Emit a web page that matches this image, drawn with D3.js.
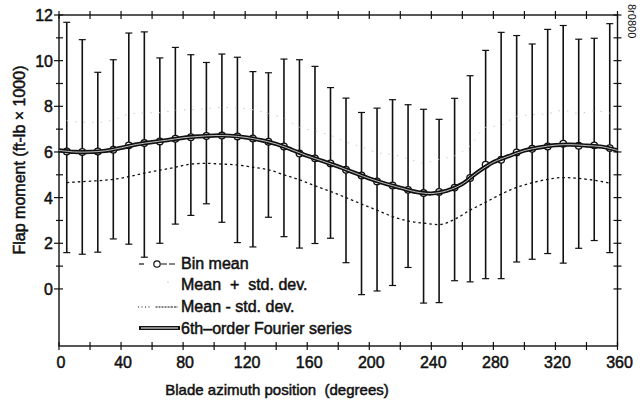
<!DOCTYPE html>
<html>
<head>
<meta charset="utf-8">
<script src="https://cdn.jsdelivr.net/npm/d3@7"></script>
<style>
  html, body { margin: 0; padding: 0; background: #fff; }
  svg { display: block; font-family: "Liberation Sans", Arial, sans-serif; }
  text { fill: #111; white-space: pre; }
</style>
</head>
<body>
<div id="chart"></div>
<script>
// Bin centres (degrees)
const binAzimuth = [5, 15, 25, 35, 45, 55, 65, 75, 85, 95, 105, 115, 125, 135, 145, 155, 165, 175,
                    185, 195, 205, 215, 225, 235, 245, 255, 265, 275, 285, 295, 305, 315, 325, 335, 345, 355];

// Bin mean (ft-lb x 1000)
const binMean = [6.02, 6.00, 6.02, 6.10, 6.29, 6.39, 6.46, 6.58, 6.65, 6.70, 6.72, 6.68, 6.59, 6.45, 6.24, 5.93, 5.72, 5.50,
                 5.22, 4.97, 4.71, 4.53, 4.34, 4.20, 4.25, 4.44, 4.86, 5.44, 5.66, 5.98, 6.14, 6.24, 6.36, 6.27, 6.29, 6.17];

// Mean + std. dev. (faint in the original)
const meanPlusSd = [7.38, 7.30, 7.30, 7.40, 7.66, 7.71, 7.72, 7.83, 7.85, 7.90, 7.95, 7.93, 7.85, 7.68, 7.48, 7.08, 6.92, 6.73,
                    6.44, 6.22, 5.97, 5.89, 5.70, 5.52, 5.68, 5.83, 6.27, 7.08, 7.17, 7.56, 7.63, 7.68, 7.82, 7.69, 7.80, 7.70];

// Mean - std. dev.
const meanMinusSd = [4.66, 4.70, 4.74, 4.80, 4.92, 5.07, 5.20, 5.33, 5.47, 5.50, 5.47, 5.43, 5.33, 5.22, 5.00, 4.78, 4.52, 4.27,
                     4.00, 3.72, 3.45, 3.17, 2.98, 2.88, 2.82, 3.05, 3.45, 3.80, 4.15, 4.45, 4.65, 4.80, 4.88, 4.84, 4.76, 4.64];

// Vertical bar extents (top / bottom)
const barTop = [11.68, 10.92, 9.49, 10.04, 11.21, 11.26, 10.12, 10.58, 10.26, 9.92, 10.29, 10.15, 9.52, 9.47, 10.07, 10.04, 9.75, 8.82,
                8.36, 7.73, 7.92, 8.29, 8.07, 7.87, 7.43, 8.35, 9.34, 10.45, 11.24, 11.10, 10.73, 11.37, 11.54, 10.94, 10.98, 11.62];
const barBottom = [1.59, 1.52, 1.61, 2.19, 1.96, 1.39, 2.00, 2.84, 3.22, 3.73, 2.92, 2.03, 1.84, 3.14, 2.29, 1.79, 1.99, 2.22,
                   1.15, -0.25, -0.09, 0.15, 0.94, -0.62, -0.60, 0.36, 0.31, 0.45, 0.45, 1.18, 1.30, 1.55, 1.13, 1.78, 2.12, 1.59];

// 6th-order Fourier series, sampled every 10 degrees
const fourierAzimuth = [0, 10, 20, 30, 40, 50, 60, 70, 80, 90, 100, 110, 120, 130, 140, 150, 160, 170, 180,
                        190, 200, 210, 220, 230, 240, 250, 260, 270, 280, 290, 300, 310, 320, 330, 340, 350, 360];
const fourierValue = [6.07, 6.00, 6.00, 6.05, 6.18, 6.33, 6.43, 6.52, 6.62, 6.68, 6.72, 6.71, 6.64, 6.52, 6.35, 6.10, 5.83, 5.60, 5.36,
                      5.10, 4.84, 4.62, 4.43, 4.25, 4.18, 4.30, 4.60, 5.12, 5.55, 5.82, 6.06, 6.20, 6.30, 6.32, 6.28, 6.23, 6.07];

// Axis ticks
const xLabelTicks = [0, 40, 80, 120, 160, 200, 240, 280, 320, 360];
const xMinorTicks = d3.range(0, 361, 20);
const yLabelTicks = [0, 2, 4, 6, 8, 10, 12];
const yMinorTicks = d3.range(0, 13, 1);

const legendItems = ['Bin mean', 'Mean  +  std. dev.', 'Mean - std. dev.', '6th\u2013order Fourier series'];

const width = 644, height = 401;
const ink = '#111';

const svg = d3.select('#chart').append('svg')
    .attr('width', width)
    .attr('height', height);

const x = d3.scaleLinear().domain([0, 360]).range([59, 617.5]);
const y = d3.scaleLinear().domain([-2.5, 12]).range([346, 15]);

// Frame
const frame = svg.append('g').attr('stroke', ink).attr('fill', 'none');
frame.append('rect')
    .attr('x', x(0)).attr('y', y(12))
    .attr('width', x(360) - x(0)).attr('height', y(-2.5) - y(12))
    .attr('stroke-width', 1.4);

// Bottom and top axis ticks (crossing the frame)
xMinorTicks.forEach(d => {
    frame.append('line')
        .attr('x1', x(d)).attr('x2', x(d))
        .attr('y1', y(-2.5) - 4).attr('y2', y(-2.5) + 4)
        .attr('stroke-width', 1.2);
    frame.append('line')
        .attr('x1', x(d)).attr('x2', x(d))
        .attr('y1', y(12) - 4).attr('y2', y(12) + 4)
        .attr('stroke-width', 1.2);
});

// Left and right axis ticks
yMinorTicks.forEach(d => {
    const major = d % 2 === 0;
    frame.append('line')
        .attr('x1', x(0) - (major ? 5 : 3)).attr('x2', x(0) + 4)
        .attr('y1', y(d)).attr('y2', y(d))
        .attr('stroke-width', 1.2);
    frame.append('line')
        .attr('x1', x(360) - 4).attr('x2', x(360) + 4)
        .attr('y1', y(d)).attr('y2', y(d))
        .attr('stroke-width', 1.2);
});

// Tick labels
svg.append('g').selectAll('text')
    .data(xLabelTicks)
    .enter()
    .append('text')
    .attr('x', d => x(d) + 2)
    .attr('y', 368)
    .attr('text-anchor', 'middle')
    .style('font-size', '16px')
    .style('stroke', ink).style('stroke-width', 0.5)
    .text(d => d);

svg.append('g').selectAll('text')
    .data(yLabelTicks)
    .enter()
    .append('text')
    .attr('x', 53)
    .attr('y', d => y(d) + 6)
    .attr('text-anchor', 'end')
    .style('font-size', '16px')
    .style('stroke', ink).style('stroke-width', 0.5)
    .text(d => d);

// Axis titles
svg.append('text')
    .attr('x', 277)
    .attr('y', 395)
    .attr('text-anchor', 'middle')
    .style('font-size', '15px')
    .style('stroke', ink).style('stroke-width', 0.5)
    .text('Blade azimuth position  (degrees)');

svg.append('text')
    .attr('transform', 'translate(25,160) rotate(-90)')
    .attr('text-anchor', 'middle')
    .style('font-size', '16px')
    .style('stroke', ink).style('stroke-width', 0.5)
    .text('Flap moment (ft-lb \u00d7 1000)');

// Figure number at top right
svg.append('text')
    .attr('transform', 'translate(628,4) rotate(90)')
    .style('font-size', '11px')
    .text('8r0800');

// Vertical bars with caps
const bars = svg.append('g').attr('stroke', ink);
binAzimuth.forEach((az, i) => {
    const cx = x(az);
    bars.append('line')
        .attr('x1', cx).attr('x2', cx)
        .attr('y1', y(barTop[i])).attr('y2', y(barBottom[i]))
        .attr('stroke-width', 1.6);
    bars.append('line')
        .attr('x1', cx - 3.5).attr('x2', cx + 3.5)
        .attr('y1', y(barTop[i])).attr('y2', y(barTop[i]))
        .attr('stroke-width', 1.2);
    bars.append('line')
        .attr('x1', cx - 3.5).attr('x2', cx + 3.5)
        .attr('y1', y(barBottom[i])).attr('y2', y(barBottom[i]))
        .attr('stroke-width', 1.2);
});

// Mean +/- std. dev. lines
const sdLine = d3.line()
    .x((d, i) => x(binAzimuth[i]))
    .y(d => y(d))
    .curve(d3.curveMonotoneX);

svg.append('path')
    .datum(meanPlusSd)
    .attr('d', sdLine)
    .attr('fill', 'none')
    .attr('stroke', '#c8c8c8')
    .attr('stroke-width', 1)
    .attr('stroke-dasharray', '1.5,7');

svg.append('path')
    .datum(meanMinusSd)
    .attr('d', sdLine)
    .attr('fill', 'none')
    .attr('stroke', ink)
    .attr('stroke-width', 1.3)
    .attr('stroke-dasharray', '2.5,3');

// Bin mean (dashed line + circles)
svg.append('path')
    .datum(binMean)
    .attr('d', sdLine)
    .attr('fill', 'none')
    .attr('stroke', ink)
    .attr('stroke-width', 1)
    .attr('stroke-dasharray', '4,3');

svg.append('g').selectAll('circle')
    .data(binMean)
    .enter()
    .append('circle')
    .attr('cx', (d, i) => x(binAzimuth[i]))
    .attr('cy', d => y(d))
    .attr('r', 3.3)
    .attr('fill', '#fff')
    .attr('stroke', ink)
    .attr('stroke-width', 1.3);

// Fourier series as a double line
const fourierLine = d3.line()
    .x((d, i) => x(fourierAzimuth[i]))
    .y(d => y(d))
    .curve(d3.curveCatmullRom);

svg.append('path')
    .datum(fourierValue)
    .attr('d', fourierLine)
    .attr('fill', 'none')
    .attr('stroke', ink)
    .attr('stroke-width', 4.2);

svg.append('path')
    .datum(fourierValue)
    .attr('d', fourierLine)
    .attr('fill', 'none')
    .attr('stroke', '#fff')
    .attr('stroke-width', 0.9)
    .attr('stroke-opacity', 0.8);

// Legend
const legend = svg.append('g');
const rowY = [263, 284, 306, 328];

legendItems.forEach((label, i) => {
    legend.append('text')
        .attr('x', 181)
        .attr('y', rowY[i] + 5.5)
        .style('font-size', '16px')
        .style('stroke', ink).style('stroke-width', 0.5)
        .text(label);
});

// Bin mean symbol
legend.append('line')
    .attr('x1', 139).attr('x2', 144).attr('y1', rowY[0] + 1).attr('y2', rowY[0] + 1)
    .attr('stroke', ink).attr('stroke-width', 1.2);
legend.append('line')
    .attr('x1', 150).attr('x2', 178).attr('y1', rowY[0] + 1).attr('y2', rowY[0] + 1)
    .attr('stroke', ink).attr('stroke-width', 1.2)
    .attr('stroke-dasharray', '0,11,6,2,6,3');
legend.append('circle')
    .attr('cx', 157).attr('cy', rowY[0] + 1).attr('r', 3.2)
    .attr('fill', '#fff').attr('stroke', ink).attr('stroke-width', 1.2);

// Mean + std. dev. symbol (faint dot)
legend.append('circle')
    .attr('cx', 168).attr('cy', rowY[1] - 2).attr('r', 0.6)
    .attr('fill', '#999');

// Mean - std. dev. symbol
legend.append('line')
    .attr('x1', 138).attr('x2', 178).attr('y1', rowY[2] + 1).attr('y2', rowY[2] + 1)
    .attr('stroke', ink).attr('stroke-width', 1.1)
    .attr('stroke-dasharray', '1,2.5,1,2.5,1,2.5,1,6,2,1,2,1,2,1,2,1,2');

// Fourier symbol
legend.append('line')
    .attr('x1', 139).attr('x2', 180).attr('y1', rowY[3]).attr('y2', rowY[3])
    .attr('stroke', ink).attr('stroke-width', 4.2);
legend.append('line')
    .attr('x1', 141).attr('x2', 178).attr('y1', rowY[3]).attr('y2', rowY[3])
    .attr('stroke', '#fff').attr('stroke-width', 1);
</script>
</body>
</html>
